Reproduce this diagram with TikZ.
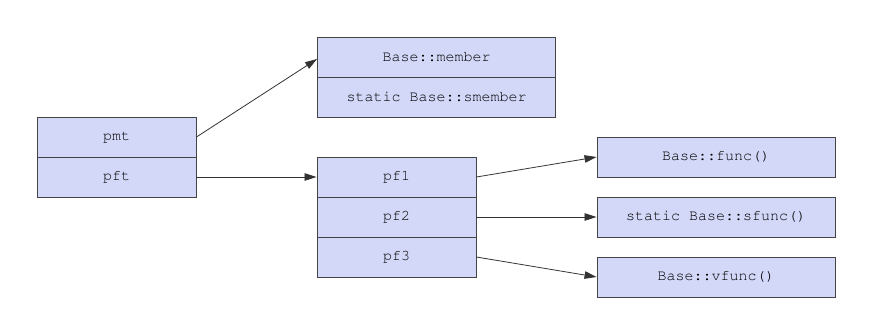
\documentclass[tikz,border=0pt]{standalone}
\usepackage[T1]{fontenc}
\usetikzlibrary{arrows.meta}
\definecolor{cellfill}{HTML}{D3D7F8}
\definecolor{celldraw}{HTML}{444444}
\definecolor{arrowcol}{HTML}{333333}
\newcommand{\cellfont}{\fontencoding{T1}\fontfamily{pcr}\fontsize{15pt}{17pt}\selectfont}
\begin{document}
\begin{tikzpicture}[x=1pt,y=-1pt,
  cell/.style={draw=celldraw,fill=cellfill,line width=0.9pt,minimum height=40pt,inner sep=0pt,
    font=\cellfont},
  narrow/.style={cell,minimum width=159pt},
  wide/.style={cell,minimum width=238pt},
  conn/.style={draw=arrowcol,line width=0.8pt,-{Triangle[length=12pt,width=7.5pt]}}]
\useasboundingbox (0,0) rectangle (871,333);
% left pointer box
\node[narrow] (pmt) at (116.5,137) {pmt};
\node[narrow] (pft) at (116.5,177) {pft};
% member box
\node[wide] (member) at (436.5,57) {Base::member};
\node[wide] (smember) at (436.5,97) {static Base::smember};
% function pointer table
\node[narrow] (pf1) at (396.5,177) {pf1};
\node[narrow] (pf2) at (396.5,217) {pf2};
\node[narrow] (pf3) at (396.5,257) {pf3};
% functions
\node[wide] (func) at (716,157) {Base::func()};
\node[wide] (sfunc) at (716,217) {static Base::sfunc()};
\node[wide] (vfunc) at (716,277) {Base::vfunc()};
% connectors
\draw[conn] (pmt.east) -- ([yshift=-2pt]member.west);
\draw[conn] (pft.east) -- (pf1.west);
\draw[conn] (pf1.east) -- (func.west);
\draw[conn] (pf2.east) -- (sfunc.west);
\draw[conn] (pf3.east) -- (vfunc.west);
\end{tikzpicture}
\end{document}
